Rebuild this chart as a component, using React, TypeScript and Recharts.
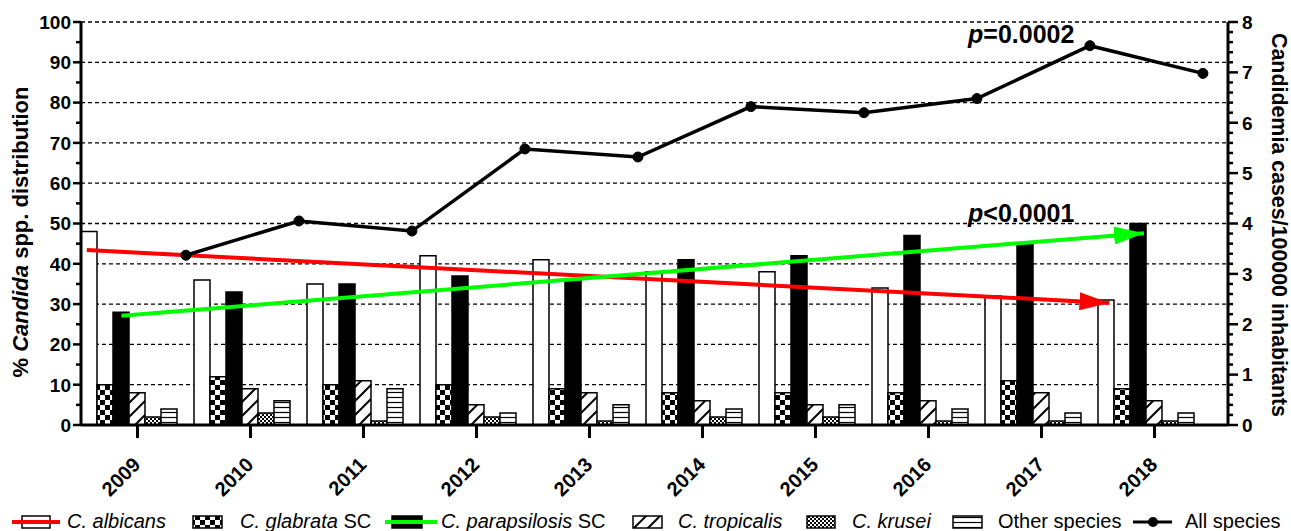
import React from 'react';
import { ComposedChart, Bar, Line, XAxis, YAxis, CartesianGrid } from 'recharts';

const years = ['2009', '2010', '2011', '2012', '2013', '2014', '2015', '2016', '2017', '2018'];
const albicans = [48, 36, 35, 42, 41, 38, 38, 34, 32, 31];
const glabrata = [10, 12, 10, 10, 9, 8, 8, 8, 11, 9];
const parapsilosis = [28, 33, 35, 37, 36, 41, 42, 47, 45, 50];
const tropicalis = [8, 9, 11, 5, 8, 6, 5, 6, 8, 6];
const krusei = [2, 3, 1, 2, 1, 2, 2, 1, 1, 1];
const otherSpecies = [4, 6, 9, 3, 5, 4, 5, 4, 3, 3];
const allSpecies = [3.37, 4.05, 3.85, 5.48, 5.32, 6.32, 6.2, 6.48, 7.53, 6.98];

// regression trend arrows (start / end, % units)
const albicansTrend = [43.4, 30.3];
const parapsilosisTrend = [27.1, 47.6];

const leftTicks = Array.from({ length: 21 }, (_, i) => i * 5);
const gridValues = [10, 20, 30, 40, 50, 60, 70, 80, 90, 100];
const rightTicks = Array.from({ length: 41 }, (_, i) => i / 5);

// slot geometry of a 7-slot group (6 bars + line slot)
const SLOTS = 7;
const slotCenter = (k: number) => -0.5 + (k + 0.5) / SLOTS;

const rows = years.map((year, i) => ({
  year,
  albicans: albicans[i],
  glabrata: glabrata[i],
  parapsilosis: parapsilosis[i],
  tropicalis: tropicalis[i],
  krusei: krusei[i],
  other: otherSpecies[i],
  all: allSpecies[i],
  xPos: i + slotCenter(6),
}));

const albTrendRows = [
  { xPos: slotCenter(0) - 0.02, pct: albicansTrend[0] },
  { xPos: 9 + slotCenter(0) + 0.03, pct: albicansTrend[1] },
];
const paraTrendRows = [
  { xPos: slotCenter(2), pct: parapsilosisTrend[0] },
  { xPos: 9 + slotCenter(2) + 0.05, pct: parapsilosisTrend[1] },
];

const FONT = '"Liberation Sans", Arial, Helvetica, sans-serif';

const XTick = (props: any) => {
  const { x, y, payload } = props;
  const tx = x + 4;
  const ty = y + 41;
  return (
    <g>
      <line x1={x} x2={x} y1={y} y2={y + 13} stroke="#000" strokeWidth={3} />
      <text
        x={tx}
        y={ty}
        transform={`rotate(-45 ${tx} ${ty})`}
        textAnchor="end"
        fontSize={20}
        fontWeight="bold"
        fontFamily={FONT}
        fill="#000"
      >
        {payload.value}
      </text>
    </g>
  );
};

const LeftTick = (props: any) => {
  const { x, y, payload } = props;
  const major = payload.value % 10 === 0;
  const len = major ? 8 : 5;
  return (
    <g>
      <line x1={x - len} x2={x} y1={y} y2={y} stroke="#000" strokeWidth={2.5} />
      {major && (
        <text x={x - 10} y={y} dy="0.36em" textAnchor="end" fontSize={19} fontWeight="bold" fontFamily={FONT} fill="#000">
          {payload.value}
        </text>
      )}
    </g>
  );
};

const RightTick = (props: any) => {
  const { x, y, payload } = props;
  const major = Number.isInteger(payload.value);
  const len = major ? 10 : 5;
  return (
    <g>
      <line x1={x} x2={x + len} y1={y} y2={y} stroke="#000" strokeWidth={2.5} />
      {major && (
        <text x={x + 14} y={y} dy="0.36em" textAnchor="start" fontSize={19} fontWeight="bold" fontFamily={FONT} fill="#000">
          {payload.value}
        </text>
      )}
    </g>
  );
};

const Defs = () => (
  <svg width={0} height={0} style={{ position: 'absolute' }}>
    <defs>
      <pattern id="checker" patternUnits="userSpaceOnUse" width={10} height={10}>
        <rect width={10} height={10} fill="#fff" />
        <rect x={0} y={0} width={5} height={5} fill="#000" />
        <rect x={5} y={5} width={5} height={5} fill="#000" />
      </pattern>
      <pattern id="fineChecker" patternUnits="userSpaceOnUse" width={4} height={4}>
        <rect width={4} height={4} fill="#fff" />
        <rect x={0} y={0} width={2} height={2} fill="#000" />
        <rect x={2} y={2} width={2} height={2} fill="#000" />
      </pattern>
      <pattern id="diag" patternUnits="userSpaceOnUse" width={14} height={14}>
        <rect width={14} height={14} fill="#fff" />
        <path d="M-2,16 L16,-2 M-9,9 L9,-9 M5,23 L23,5" stroke="#000" strokeWidth={2} />
      </pattern>
      <pattern id="hlines" patternUnits="userSpaceOnUse" width={10} height={5}>
        <rect width={10} height={5} fill="#fff" />
        <line x1={0} x2={10} y1={2.5} y2={2.5} stroke="#000" strokeWidth={1.2} />
      </pattern>
      <marker id="arrowRed" markerUnits="userSpaceOnUse" markerWidth={30} markerHeight={18} viewBox="0 0 30 18" refX={30} refY={9} orient="auto">
        <path d="M0,0 L30,9 L0,18 z" fill="#ff0000" />
      </marker>
      <marker id="arrowGreen" markerUnits="userSpaceOnUse" markerWidth={30} markerHeight={18} viewBox="0 0 30 18" refX={30} refY={9} orient="auto">
        <path d="M0,0 L30,9 L0,18 z" fill="#00ff00" />
      </marker>
    </defs>
  </svg>
);

const Overlay = () => (
  <svg width={1291} height={531} style={{ position: 'absolute', left: 0, top: 0, pointerEvents: 'none' }} fontFamily={FONT}>
    {/* axis titles */}
    <text x={20} y={232} dy="0.35em" transform="rotate(-90 20 232)" textAnchor="middle" fontSize={22} fontWeight="bold" fill="#000">
      <tspan>%  </tspan>
      <tspan fontStyle="italic">Candida</tspan>
      <tspan> spp. distribution</tspan>
    </text>
    <text x={1279} y={225} dy="0.35em" transform="rotate(90 1279 225)" textAnchor="middle" fontSize={21.4} fontWeight="bold" fill="#000">
      Candidemia cases/100000 inhabitants
    </text>
    {/* p values */}
    <text x={968} y={43} fontSize={25} fontWeight="bold" fill="#000">
      <tspan fontStyle="italic">p</tspan>=0.0002
    </text>
    <text x={968} y={222} fontSize={25} fontWeight="bold" fill="#000">
      <tspan fontStyle="italic">p</tspan>&lt;0.0001
    </text>
    {/* legend */}
    <g fontSize={20} fill="#000">
      <rect x={22} y={516} width={28} height={12} fill="#fff" stroke="#000" strokeWidth={1.5} />
      <line x1={12} x2={60} y1={522} y2={522} stroke="#ff0000" strokeWidth={4} />
      <text x={67} y={528} fontStyle="italic">C. albicans</text>

      <rect x={193} y={516} width={29} height={12} fill="url(#checker)" stroke="#000" strokeWidth={1.5} />
      <text x={240} y={528}><tspan fontStyle="italic">C. glabrata</tspan> SC</text>

      <rect x={392} y={516} width={30} height={12} fill="#000" stroke="#000" strokeWidth={1.5} />
      <line x1={385} x2={437} y1={522} y2={522} stroke="#00ff00" strokeWidth={4} />
      <text x={441} y={528}><tspan fontStyle="italic">C. parapsilosis</tspan> SC</text>

      <rect x={633} y={516} width={29} height={12} fill="url(#diag)" stroke="#000" strokeWidth={1.5} />
      <text x={678} y={528} fontStyle="italic">C. tropicalis</text>

      <rect x={807} y={516} width={28} height={12} fill="url(#fineChecker)" stroke="#000" strokeWidth={1.5} />
      <text x={852} y={528} fontStyle="italic">C. krusei</text>

      <rect x={953} y={516} width={29} height={12} fill="url(#hlines)" stroke="#000" strokeWidth={1.5} />
      <text x={998} y={528}>Other species</text>

      <line x1={1133} x2={1172} y1={522} y2={522} stroke="#000" strokeWidth={3} />
      <circle cx={1153} cy={522} r={5} fill="#000" />
      <text x={1185} y={528}>All species</text>
    </g>
  </svg>
);

const barStroke = { stroke: '#000', strokeWidth: 1.5 };

export default function App() {
  return (
    <div style={{ position: 'absolute', left: 0, top: 0, width: 1291, height: 531, background: '#fff' }}>
      <Defs />
      <ComposedChart
        width={1291}
        height={531}
        data={rows}
        margin={{ top: 22, right: 0, bottom: 0, left: 0 }}
        barCategoryGap={0}
        barGap={0}
      >
        <XAxis
          xAxisId="cat"
          dataKey="year"
          type="category"
          padding={{ left: 0, right: 17 }}
          height={106}
          interval={0}
          tickSize={0}
          tickMargin={0}
          tickLine={false}
          tick={<XTick />}
          axisLine={{ stroke: '#000', strokeWidth: 3 }}
        />
        <XAxis
          xAxisId="num"
          dataKey="xPos"
          type="number"
          domain={[-0.5, 9.5]}
          padding={{ left: 0, right: 17 }}
          allowDataOverflow
          hide
        />
        <YAxis
          yAxisId="left"
          orientation="left"
          domain={[0, 100]}
          ticks={leftTicks}
          interval={0}
          width={81}
          tickSize={0}
          tickMargin={0}
          tickLine={false}
          tick={<LeftTick />}
          axisLine={{ stroke: '#000', strokeWidth: 3 }}
        />
        <YAxis
          yAxisId="right"
          orientation="right"
          domain={[0, 8]}
          ticks={rightTicks}
          interval={0}
          width={63}
          tickSize={0}
          tickMargin={0}
          tickLine={false}
          tick={<RightTick />}
          axisLine={{ stroke: '#000', strokeWidth: 3 }}
        />
        <CartesianGrid
          xAxisId="cat"
          yAxisId="left"
          vertical={false}
          horizontalValues={gridValues}
          syncWithTicks
          stroke="#000"
          strokeWidth={1.3}
          strokeDasharray="4 3"
        />
        <Bar xAxisId="cat" yAxisId="left" dataKey="albicans" fill="#fff" {...barStroke} isAnimationActive={false} />
        <Bar xAxisId="cat" yAxisId="left" dataKey="glabrata" fill="url(#checker)" {...barStroke} isAnimationActive={false} />
        <Bar xAxisId="cat" yAxisId="left" dataKey="parapsilosis" fill="#000" {...barStroke} isAnimationActive={false} />
        <Bar xAxisId="cat" yAxisId="left" dataKey="tropicalis" fill="url(#diag)" {...barStroke} isAnimationActive={false} />
        <Bar xAxisId="cat" yAxisId="left" dataKey="krusei" fill="url(#fineChecker)" {...barStroke} isAnimationActive={false} />
        <Bar xAxisId="cat" yAxisId="left" dataKey="other" fill="url(#hlines)" {...barStroke} isAnimationActive={false} />
        <Bar xAxisId="cat" yAxisId="left" dataKey="spacer" fill="none" legendType="none" isAnimationActive={false} />
        <Line
          xAxisId="num"
          yAxisId="left"
          data={albTrendRows}
          dataKey="pct"
          stroke="#ff0000"
          strokeWidth={4}
          dot={false}
          activeDot={false}
          markerEnd="url(#arrowRed)"
          isAnimationActive={false}
        />
        <Line
          xAxisId="num"
          yAxisId="left"
          data={paraTrendRows}
          dataKey="pct"
          stroke="#00ff00"
          strokeWidth={4}
          dot={false}
          activeDot={false}
          markerEnd="url(#arrowGreen)"
          isAnimationActive={false}
        />
        <Line
          xAxisId="num"
          yAxisId="right"
          dataKey="all"
          stroke="#000"
          strokeWidth={3.5}
          dot={{ r: 5, fill: '#000', stroke: '#000', strokeWidth: 1 }}
          activeDot={false}
          isAnimationActive={false}
        />
      </ComposedChart>
      <Overlay />
    </div>
  );
}
